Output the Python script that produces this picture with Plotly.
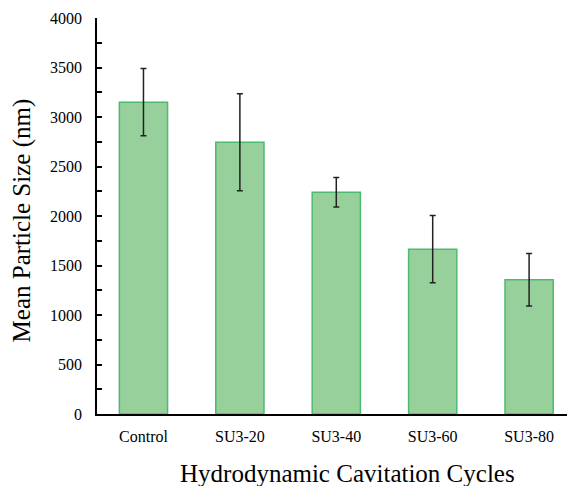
import plotly.graph_objects as go

categories = ["Control", "SU3-20", "SU3-40", "SU3-60", "SU3-80"]
mean_size = [3150, 2745, 2240, 1665, 1355]
error = [340, 490, 150, 340, 265]
y_ticks = [0, 500, 1000, 1500, 2000, 2500, 3000, 3500, 4000]

SERIF = "Liberation Serif, Times New Roman, serif"

fig = go.Figure()
fig.add_trace(go.Bar(
    x=categories, y=mean_size,
    marker=dict(color="#97D09B", line=dict(color="#4DBA72", width=1.5)),
    error_y=dict(type="data", array=error, visible=True, color="#222222", thickness=1.5, width=3),
))

# page body has an 8px margin, so the figure is sized/offset to compensate
fig.update_layout(
    width=567, height=478,
    margin=dict(l=89, r=0, t=10, b=72),
    plot_bgcolor="white", paper_bgcolor="white",
    bargap=0.5, showlegend=False,
    font=dict(family=SERIF, color="black", size=16),
    xaxis=dict(
        range=[-0.482, 4.476], showline=True, linecolor="black", linewidth=1.5,
        ticks="", showgrid=False, tickfont=dict(family=SERIF, size=16, color="black"),
        ticklabelstandoff=7,
    ),
    yaxis=dict(
        range=[0, 4000], tickvals=y_ticks, showline=True, linecolor="black", linewidth=1.5,
        ticks="inside", ticklen=5, tickwidth=1.5, tickcolor="black", showgrid=False,
        zeroline=False, tickfont=dict(family=SERIF, size=16, color="black"),
        ticklabelstandoff=10,
        minor=dict(dtick=250, tick0=0, ticks="inside", ticklen=5, tickwidth=1.5, tickcolor="black", showgrid=False),
    ),
    annotations=[
        dict(text="Hydrodynamic Cavitation Cycles", xref="paper", yref="paper",
             x=0.525, y=-0.1515, xanchor="center", yanchor="middle", showarrow=False,
             font=dict(family=SERIF, size=25, color="black")),
        dict(text="Mean Particle Size (nm)", xref="paper", yref="paper",
             x=-0.158, y=0.49, xanchor="center", yanchor="middle", showarrow=False,
             textangle=-90, font=dict(family=SERIF, size=25, color="black")),
    ],
)

fig.write_html("out.html")
